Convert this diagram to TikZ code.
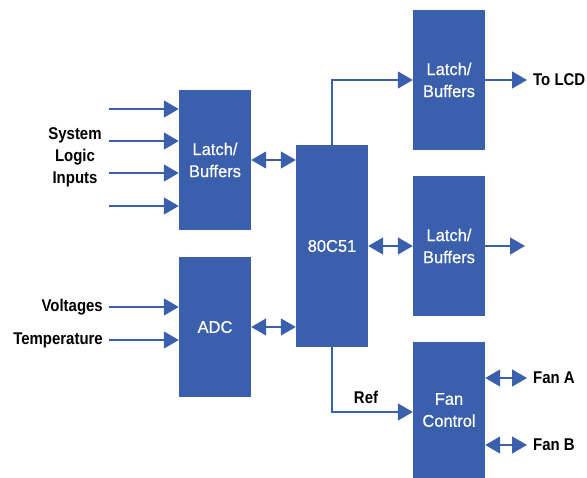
\documentclass[tikz,border=0pt]{standalone}
\usepackage{fontspec}
\setmainfont{Liberation Sans}[FakeStretch=0.88]
\newfontfamily\blkfont{Liberation Sans}[FakeStretch=0.97, FakeBold=0.6]
\usepackage{xcolor}
\usetikzlibrary{positioning,arrows.meta}
\definecolor{hpblue}{HTML}{3A5FAD}

\begin{document}
\begin{tikzpicture}[x=1pt, y=-1pt,
        blk/.style={fill=hpblue, minimum width=72pt, inner sep=0pt, font=\blkfont\fontsize{17}{22}\selectfont, text=white, align=center},
        lbl/.style={font=\bfseries\fontsize{17}{22}\selectfont, inner sep=0pt},
        wire/.style={draw=hpblue, line width=1.4pt, -{Triangle[length=15pt, width=17pt]}},
        both/.style={draw=hpblue, line width=1.4pt, {Triangle[length=15pt, width=17pt]}-{Triangle[length=15pt, width=17pt]}},
    ]
        \useasboundingbox (0,0) rectangle (587,478);
        % blocks
        \node[blk, minimum height=140pt] (latchL) at (215,160) {Latch/\\Buffers};
        \node[blk, minimum height=140pt] (adc)    at (215,327) {ADC};
        \node[blk, minimum height=202pt] (cpu)    at (332,246) {80C51};
        \node[blk, minimum height=140pt] (latchT) at (449,80)  {Latch/\\Buffers};
        \node[blk, minimum height=140pt] (latchM) at (449,246) {Latch/\\Buffers};
        \node[blk, minimum height=136pt] (fan)    at (449,410) {Fan\\Control};

        % system logic inputs
        \foreach \yy [count=\i] in {109,141,173,206} {
            \coordinate (in\i) at (109,\yy);
            \draw[wire] (in\i) -- (in\i -| latchL.west);
        }
        \node[lbl, align=center] (sys) at (75,157) {System\\Logic\\Inputs};

        % analog inputs
        \coordinate (vin) at (109,307);
        \coordinate (tin) at (109,340);
        \draw[wire] (vin) -- (vin -| adc.west);
        \draw[wire] (tin) -- (tin -| adc.west);
        \node[lbl, anchor=east] (volt) at (103,307) {Voltages};
        \node[lbl, anchor=east] (temp) at (103,340) {Temperature};

        % buses to the 80C51
        \draw[both] (latchL.east |- 0,160) -- (cpu.west |- 0,160);
        \draw[both] (adc.east |- 0,327) -- (cpu.west |- 0,327);
        \draw[both] (cpu.east |- latchM) -- (latchM.west);
        \draw[wire] (cpu.north) |- (latchT.west);
        \draw[wire] (cpu.south) |- (fan.west |- 0,412);
        \node[lbl] (ref) at (366,397) {Ref};

        % outputs
        \coordinate (lcd) at (527,80);
        \draw[wire] (latchT.east) -- (lcd);
        \node[lbl, anchor=west] (tolcd) at (533,80) {To LCD};
        \coordinate (out) at (525,246);
        \draw[wire] (latchM.east) -- (out);
        \coordinate (fa) at (527,378);
        \coordinate (fb) at (527,445);
        \draw[both] (fa -| fan.east) -- (fa);
        \draw[both] (fb -| fan.east) -- (fb);
        \node[lbl, anchor=west] (fana) at (533,378) {Fan A};
        \node[lbl, anchor=west] (fanb) at (533,445) {Fan B};
    \end{tikzpicture}
\end{document}
